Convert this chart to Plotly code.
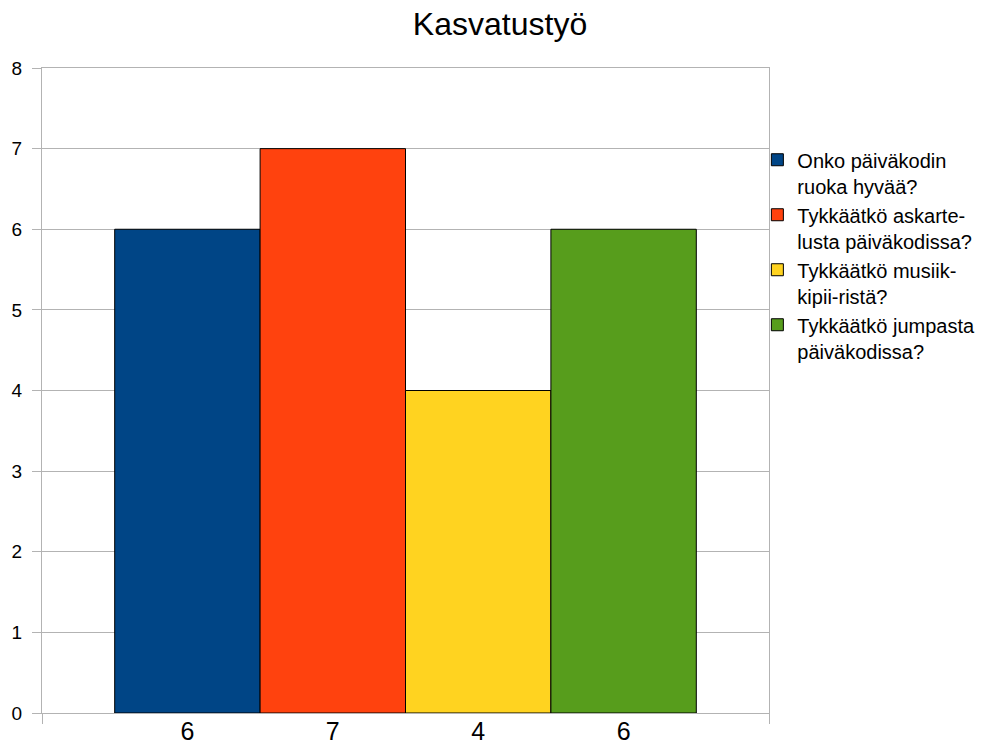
import plotly.graph_objects as go

# survey questions and answer counts
questions = ["Onko päiväkodin<br>ruoka hyvää?",
             "Tykkäätkö askarte-<br>lusta päiväkodissa?",
             "Tykkäätkö musiik-<br>kipii-ristä?",
             "Tykkäätkö jumpasta<br>päiväkodissa?"]
answers = [6, 7, 4, 6]
colors = ['#004586', '#ff420e', '#ffd320', '#579d1c']

positions = [i + 1 for i in range(len(answers))]

fig = go.Figure()
for i in range(len(answers)):
    fig.add_trace(go.Bar(x=[positions[i]],
                         y=[answers[i]],
                         width=1,
                         name=questions[i],
                         marker_color=colors[i],
                         marker_line=dict(color='black', width=1)))

grid = '#b3b3b3'
# page body adds an 8px offset, so the figure is a bit smaller than the window
fig.update_layout(barmode='overlay',
                  width=995, height=739,
                  margin=dict(l=34, r=234, t=60, b=34),
                  paper_bgcolor='white', plot_bgcolor='white',
                  font=dict(family='Liberation Sans, Arial, sans-serif', color='black'),
                  title=dict(text='Kasvatustyö', x=0.4945, xanchor='center',
                             y=1.0, yanchor='top', pad=dict(t=5),
                             automargin=False,
                             font=dict(size=32, color='black')),
                  showlegend=True,
                  legend=dict(x=0.984, xanchor='left', y=0.888, yanchor='top',
                              font=dict(size=20, color='black'),
                              valign='top', bgcolor='rgba(0,0,0,0)',
                              tracegroupgap=0))

fig.update_xaxes(range=[0, 5], automargin=False,
                 tickvals=positions,
                 ticktext=[str(v) for v in answers],
                 tickfont=dict(size=25),
                 ticks='', ticklabelstandoff=-4,
                 showgrid=False, zeroline=False,
                 showline=True, linecolor=grid, linewidth=1, mirror=True,
                 minor=dict(tickvals=[0, 5], ticks='outside', ticklen=10,
                            tickcolor=grid, showgrid=False))

fig.update_yaxes(range=[0, 8], dtick=1, automargin=False,
                 tickfont=dict(size=19),
                 ticks='outside', ticklen=9, tickcolor=grid,
                 ticklabelstandoff=6,
                 showgrid=True, gridcolor=grid, gridwidth=1,
                 zeroline=False,
                 showline=True, linecolor=grid, linewidth=1, mirror=True)

fig.write_html("out.html")
